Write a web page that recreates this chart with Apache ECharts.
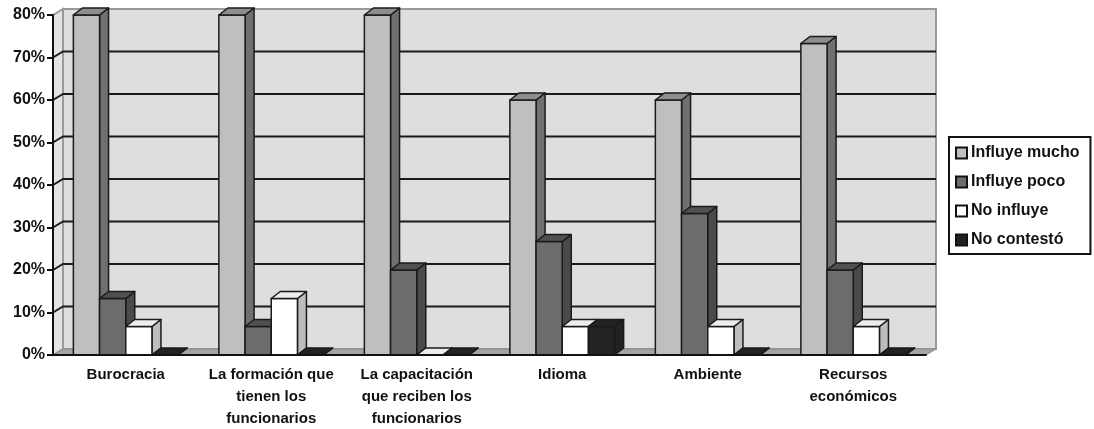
<!DOCTYPE html>
<html>
<head>
<meta charset="utf-8">
<script src="https://cdn.jsdelivr.net/npm/echarts@6/dist/echarts.min.js"></script>
<style>
  html, body { margin: 0; padding: 0; background: #ffffff; }
  #chart { width: 1094px; height: 429px; }
</style>
</head>
<body>
<div id="chart"></div>
<script>
// Categories along the horizontal axis
const categories = [
  'Burocracia',
  'La formación que\ntienen los\nfuncionarios',
  'La capacitación\nque reciben los\nfuncionarios',
  'Idioma',
  'Ambiente',
  'Recursos\neconómicos'
];

// Percentages per answer
const influyeMucho = [80, 80, 80, 60, 60, 73.3];
const influyePoco  = [13.3, 6.7, 20, 26.7, 33.3, 20];
const noInfluye    = [6.7, 13.3, 0, 6.7, 6.7, 6.7];
const noContesto   = [0, 0, 0, 6.7, 0, 0];

const seriesNames = ['Influye mucho', 'Influye poco', 'No influye', 'No contestó'];
const yTicks = [0, 10, 20, 30, 40, 50, 60, 70, 80];

// Face shading for each series: front, top, side
const shades = [
  { front: '#bfbfbf', top: '#8e8e8e', side: '#707070' },
  { front: '#6c6c6c', top: '#505050', side: '#4a4a4a' },
  { front: '#ffffff', top: '#eeeeee', side: '#bdbdbd' },
  { front: '#222222', top: '#222222', side: '#222222' }
];

// Depth offset of the pseudo-3D look
const BAR_DX = 9, BAR_DY = -7;
const WALL_DX = 10, WALL_DY = -6;
const EDGE = '#1a1a1a';

function barRenderer(s) {
  const c = shades[s];
  return function (params, api) {
    const cat = api.value(0);
    const v = api.value(1);
    const base = api.coord([cat, 0]);
    const top = api.coord([cat, v]);
    const band = api.size([1, 0])[0];
    const w = band * 0.18;
    const x0 = base[0] + (s - 2) * w;
    const yb = base[1], yt = top[1];
    const stroke = { stroke: EDGE, lineWidth: 1.5, lineJoin: 'round' };
    return {
      type: 'group',
      children: [
        {
          type: 'polygon',
          shape: { points: [[x0 + w, yt], [x0 + w + BAR_DX, yt + BAR_DY], [x0 + w + BAR_DX, yb + BAR_DY], [x0 + w, yb]] },
          style: Object.assign({ fill: c.side }, stroke)
        },
        {
          type: 'rect',
          shape: { x: x0, y: yt, width: w, height: yb - yt },
          style: Object.assign({ fill: c.front }, stroke)
        },
        {
          type: 'polygon',
          shape: { points: [[x0, yt], [x0 + w, yt], [x0 + w + BAR_DX, yt + BAR_DY], [x0 + BAR_DX, yt + BAR_DY]] },
          style: Object.assign({ fill: c.top }, stroke)
        }
      ]
    };
  };
}

// Back wall, side wall, floor and gridlines
function wallRenderer(params, api) {
  const cs = params.coordSys;
  const left = cs.x, right = cs.x + cs.width;
  const top = cs.y, bottom = cs.y + cs.height;
  const children = [
    {
      type: 'rect',
      shape: { x: left + WALL_DX, y: top + WALL_DY, width: cs.width, height: cs.height },
      style: { fill: '#dedede', stroke: '#999999', lineWidth: 2 }
    },
    {
      type: 'polygon',
      shape: { points: [[left, top], [left + WALL_DX, top + WALL_DY], [left + WALL_DX, bottom + WALL_DY], [left, bottom]] },
      style: { fill: '#e4e4e4', stroke: '#9a9a9a', lineWidth: 2 }
    },
    {
      type: 'polygon',
      shape: { points: [[left, bottom], [left + WALL_DX, bottom + WALL_DY], [right + WALL_DX, bottom + WALL_DY], [right, bottom]] },
      style: { fill: '#a4a4a4', stroke: '#8a8a8a', lineWidth: 1 }
    }
  ];
  yTicks.forEach(function (t) {
    if (t === 0 || t === yTicks[yTicks.length - 1]) return;
    const y = api.coord([0, t])[1];
    children.push({
      type: 'polyline',
      shape: { points: [[left, y], [left + WALL_DX, y + WALL_DY], [right + WALL_DX, y + WALL_DY]] },
      style: { fill: null, stroke: EDGE, lineWidth: 2 }
    });
  });
  return { type: 'group', children: children };
}

const valueSets = [influyeMucho, influyePoco, noInfluye, noContesto];

const series = [{
  name: 'walls',
  type: 'custom',
  silent: true,
  z: 1,
  renderItem: wallRenderer,
  data: [[0, 0]]
}].concat(valueSets.map(function (vals, s) {
  return {
    name: seriesNames[s],
    type: 'custom',
    z: 2 + s,
    itemStyle: { color: shades[s].front },
    renderItem: barRenderer(s),
    data: vals.map(function (v, i) { return [i, v]; })
  };
}));

const chart = echarts.init(document.getElementById('chart'), null, { renderer: 'canvas' });
chart.setOption({
  animation: false,
  backgroundColor: '#ffffff',
  textStyle: { fontFamily: '"Liberation Sans", Arial, sans-serif' },
  grid: { left: 53, right: 168, top: 15, bottom: 74, containLabel: false, outerBoundsMode: 'none' },
  legend: {
    orient: 'vertical',
    left: 949,
    top: 137,
    padding: [8, 11, 6, 6],
    itemGap: 13,
    itemWidth: 11,
    itemHeight: 11,
    borderColor: '#111111',
    borderWidth: 2,
    data: seriesNames.map(function (n, s) {
      return { name: n, icon: 'rect', itemStyle: { color: shades[s].front, borderColor: '#111111', borderWidth: 2 } };
    }),
    textStyle: { fontSize: 16, fontWeight: 'bold', color: '#111111', padding: [0, 0, 0, -1] }
  },
  xAxis: {
    type: 'category',
    data: categories,
    z: 10,
    axisLine: { lineStyle: { color: '#111111', width: 2 } },
    axisTick: { length: 6, lineStyle: { color: '#111111', width: 2 } },
    axisLabel: {
      interval: 0,
      margin: 9,
      fontSize: 15,
      fontWeight: 'bold',
      lineHeight: 22,
      color: '#111111'
    },
    splitLine: { show: false }
  },
  yAxis: {
    type: 'value',
    min: 0,
    max: 80,
    interval: 10,
    z: 10,
    axisLine: { show: true, lineStyle: { color: '#111111', width: 2 } },
    axisTick: { show: true, length: 6, lineStyle: { color: '#111111', width: 2 } },
    axisLabel: { formatter: '{value}%', fontSize: 16, fontWeight: 'bold', color: '#111111', margin: 8 },
    splitLine: { show: false }
  },
  series: series
});
</script>
</body>
</html>
